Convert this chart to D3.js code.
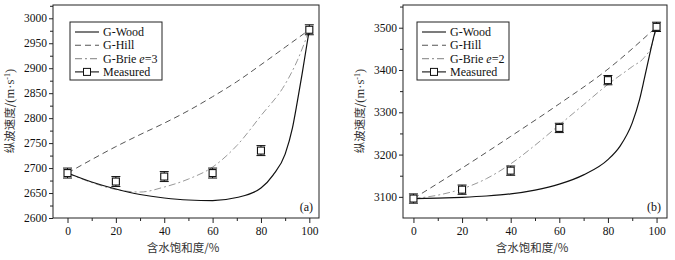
<!DOCTYPE html>
<html>
<head>
<meta charset="utf-8">
<script src="https://cdn.jsdelivr.net/npm/d3@7"></script>
<style>
body { margin: 0; background: #fff; }
svg { display: block; }
.cjk { font-family: "Noto Sans CJK SC", sans-serif; font-size: 11.5px; fill: #333; }
.lat { font-family: "Liberation Serif", serif; }
.leg { font-family: "Liberation Serif", serif; font-size: 12px; fill: #111; }
</style>
</head>
<body>
<div class="container"></div>
<script>
var sat = [0, 20, 40, 60, 80, 100];

// panel (a)
var aMeasured = [2690, 2673, 2683, 2690, 2735, 2977];
var aError = [10, 10, 10, 10, 10, 10];
var aWoodX = [0, 10, 20, 30, 40, 50, 60, 70, 80, 85, 90, 93, 95, 97, 99, 100];
var aWoodY = [2690, 2672, 2658, 2647, 2640, 2636, 2635, 2641, 2660, 2686, 2728, 2780, 2832, 2888, 2948, 2977];
var aHillX = [0, 10, 20, 30, 40, 50, 60, 70, 80, 90, 100];
var aHillY = [2690, 2717, 2743, 2767, 2790, 2815, 2843, 2873, 2907, 2942, 2977];
var aBrieX = [0, 10, 20, 30, 40, 50, 60, 70, 80, 90, 95, 100];
var aBrieY = [2690, 2671, 2657, 2652, 2662, 2678, 2702, 2745, 2805, 2868, 2915, 2977];
var aYTicks = [2600, 2650, 2700, 2750, 2800, 2850, 2900, 2950, 3000];

// panel (b)
var bMeasured = [3096, 3117, 3162, 3263, 3376, 3502];
var bError = [11, 11, 11, 11, 11, 11];
var bWoodX = [0, 10, 20, 30, 40, 50, 60, 70, 80, 85, 90, 93, 95, 97, 99, 100];
var bWoodY = [3096, 3097, 3099, 3102, 3107, 3116, 3130, 3152, 3188, 3220, 3275, 3330, 3380, 3432, 3482, 3502];
var bHillX = [0, 20, 40, 60, 80, 100];
var bHillY = [3096, 3168, 3243, 3320, 3402, 3502];
var bBrieX = [0, 10, 20, 30, 40, 50, 60, 70, 80, 90, 95, 98, 100];
var bBrieY = [3096, 3104, 3119, 3143, 3178, 3222, 3270, 3318, 3366, 3408, 3430, 3458, 3502];
var bYTicks = [3100, 3200, 3300, 3400, 3500];

var xTicks = [0, 20, 40, 60, 80, 100];

var WIDTH = 675, HEIGHT = 260, TOP = 5, BOTTOM = 218;

var svg = d3.select('.container').append('svg')
	.attr('width', WIDTH)
	.attr('height', HEIGHT);

function zip(xs, ys) {
	return xs.map(function(x, i) { return {x: x, y: ys[i]}; });
}

function styleAxis(a) {
	a.select('.domain').remove();
	a.attr('font-family', '"Liberation Serif", serif').attr('font-size', 11.5);
	a.selectAll('.tick line').attr('stroke', '#222');
	a.selectAll('.tick text').attr('fill', '#111');
}

function drawPanel(p) {
	var g = svg.append('g');

	var xScale = d3.scaleLinear().domain(p.xDomain).range([p.left, p.right]);
	var yScale = d3.scaleLinear().domain(p.yDomain).range([BOTTOM, TOP]);

	// frame
	g.append('rect')
		.attr('x', p.left).attr('y', TOP)
		.attr('width', p.right - p.left).attr('height', BOTTOM - TOP)
		.attr('fill', 'none').attr('stroke', '#222').attr('stroke-width', 1);

	// minor ticks
	g.append('g')
		.attr('transform', 'translate(0,' + BOTTOM + ')')
		.call(d3.axisBottom(xScale).tickValues(d3.range(10, 100, 20)).tickSize(3).tickFormat(''))
		.call(styleAxis);
	g.append('g')
		.attr('transform', 'translate(' + p.left + ',0)')
		.call(d3.axisLeft(yScale).tickValues(p.yMinor).tickSize(3).tickFormat(''))
		.call(styleAxis);

	// major ticks
	g.append('g')
		.attr('transform', 'translate(0,' + BOTTOM + ')')
		.call(d3.axisBottom(xScale).tickValues(xTicks).tickSize(5).tickPadding(4).tickFormat(d3.format('d')))
		.call(styleAxis);
	g.append('g')
		.attr('transform', 'translate(' + p.left + ',0)')
		.call(d3.axisLeft(yScale).tickValues(p.yTicks).tickSize(4).tickPadding(2).tickFormat(d3.format('d')))
		.call(styleAxis);

	var line = d3.line()
		.curve(d3.curveMonotoneX)
		.x(function(d) { return xScale(d.x); })
		.y(function(d) { return yScale(d.y); });

	g.append('path').datum(zip(p.hillX, p.hillY))
		.attr('d', line).attr('fill', 'none')
		.attr('stroke', '#555').attr('stroke-width', 1).attr('stroke-dasharray', '6,4');
	g.append('path').datum(zip(p.brieX, p.brieY))
		.attr('d', line).attr('fill', 'none')
		.attr('stroke', '#999').attr('stroke-width', 1).attr('stroke-dasharray', '7,3,2,3');
	g.append('path').datum(zip(p.woodX, p.woodY))
		.attr('d', line).attr('fill', 'none')
		.attr('stroke', '#111').attr('stroke-width', 1.2);

	// measured with error bars
	var pts = zip(sat, p.measured);
	var eb = g.selectAll('.eb').data(pts).enter().append('g');
	eb.append('line')
		.attr('x1', function(d) { return xScale(d.x); })
		.attr('x2', function(d) { return xScale(d.x); })
		.attr('y1', function(d, i) { return yScale(d.y + p.err[i]); })
		.attr('y2', function(d, i) { return yScale(d.y - p.err[i]); })
		.attr('stroke', '#111');
	[1, -1].forEach(function(s) {
		eb.append('line')
			.attr('x1', function(d) { return xScale(d.x) - 4.5; })
			.attr('x2', function(d) { return xScale(d.x) + 4.5; })
			.attr('y1', function(d, i) { return yScale(d.y + s * p.err[i]); })
			.attr('y2', function(d, i) { return yScale(d.y + s * p.err[i]); })
			.attr('stroke', '#111');
	});
	eb.append('rect')
		.attr('x', function(d) { return xScale(d.x) - 3.5; })
		.attr('y', function(d) { return yScale(d.y) - 3.5; })
		.attr('width', 7).attr('height', 7)
		.attr('fill', '#fff').attr('stroke', '#111').attr('stroke-width', 1.1);

	// legend
	var lx = p.left + p.legendDx, ly = 22;
	g.append('rect').attr('x', lx).attr('y', ly).attr('width', 92).attr('height', 58)
		.attr('fill', '#fff').attr('stroke', '#222');
	var items = [
		{name: 'G-Wood', stroke: '#111', dash: null},
		{name: 'G-Hill', stroke: '#555', dash: '6,4'},
		{name: 'G-Brie', stroke: '#999', dash: '7,3,2,3', e: p.e},
		{name: 'Measured', stroke: '#111', dash: null, marker: true}
	];
	items.forEach(function(it, i) {
		var yy = ly + 10 + i * 13.3;
		g.append('line').attr('x1', lx + 5).attr('x2', lx + 29).attr('y1', yy).attr('y2', yy)
			.attr('stroke', it.stroke).attr('stroke-width', 1.1)
			.attr('stroke-dasharray', it.dash);
		if (it.marker) {
			g.append('rect').attr('x', lx + 13.5).attr('y', yy - 3.5).attr('width', 7).attr('height', 7)
				.attr('fill', '#fff').attr('stroke', '#111');
		}
		var t = g.append('text').attr('class', 'leg').attr('x', lx + 33).attr('y', yy + 4).text(it.name);
		if (it.e) {
			t.append('tspan').text(' ');
			t.append('tspan').attr('font-style', 'italic').text('e');
			t.append('tspan').text('=' + it.e);
		}
	});

	// panel tag
	g.append('text').attr('class', 'leg').attr('x', p.right - 6).attr('y', 211)
		.attr('text-anchor', 'end').text(p.tag);

	// axis titles
	g.append('text').attr('class', 'cjk')
		.attr('x', (p.left + p.right) / 2 - 3).attr('y', 252)
		.attr('text-anchor', 'middle').text('含水饱和度/%');
	var yt = g.append('text').attr('class', 'cjk')
		.attr('transform', 'translate(' + (p.left - 39) + ',111) rotate(-90)')
		.attr('text-anchor', 'middle');
	yt.append('tspan').text('纵波速度/');
	yt.append('tspan').attr('class', 'lat').attr('font-size', 12.5).text('(m·s');
	yt.append('tspan').attr('class', 'lat').attr('dy', -4).attr('font-size', 8).text('-1');
	yt.append('tspan').attr('class', 'lat').attr('dy', 4).attr('font-size', 12.5).text(')');
}

drawPanel({
	left: 53, right: 319, xDomain: [-6, 104], yDomain: [2600, 3026.6],
	yTicks: aYTicks, yMinor: d3.range(2625, 3026, 50),
	measured: aMeasured, err: aError,
	woodX: aWoodX, woodY: aWoodY, hillX: aHillX, hillY: aHillY, brieX: aBrieX, brieY: aBrieY,
	legendDx: 17, e: 3, tag: '(a)'
});
drawPanel({
	left: 403, right: 667, xDomain: [-4.3, 104.3], yDomain: [3050, 3553.7],
	yTicks: bYTicks, yMinor: d3.range(3150, 3553, 100),
	measured: bMeasured, err: bError,
	woodX: bWoodX, woodY: bWoodY, hillX: bHillX, hillY: bHillY, brieX: bBrieX, brieY: bBrieY,
	legendDx: 14, e: 2, tag: '(b)'
});
</script>
</body>
</html>
